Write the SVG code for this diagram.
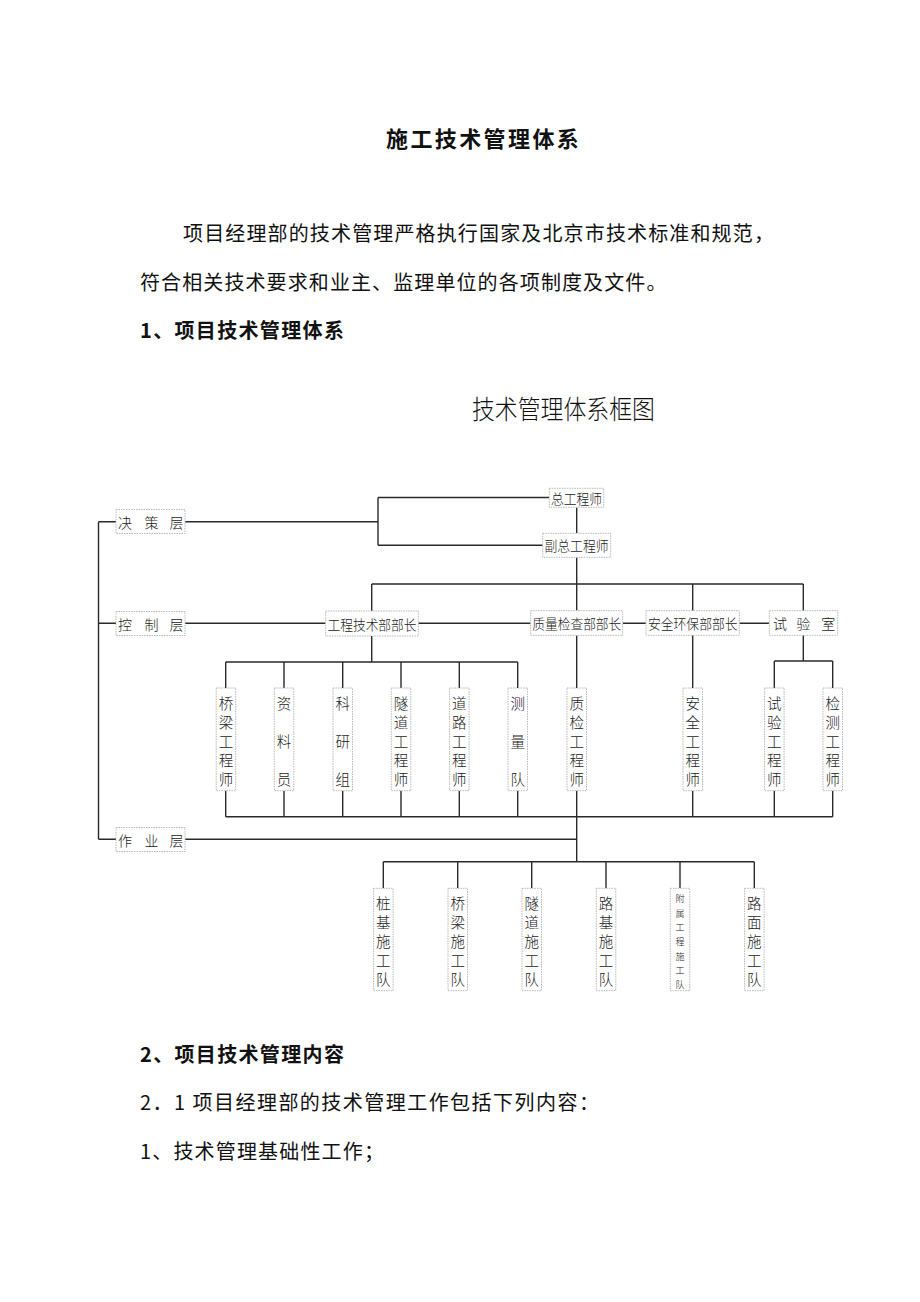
<svg xmlns="http://www.w3.org/2000/svg" width="920" height="1302" viewBox="0 0 920 1302">
<style>
.bg{fill:#ffffff}
.body{font-family:"Noto Sans CJK SC","Liberation Serif",sans-serif;font-size:20px;fill:#111;letter-spacing:1.1px;dominant-baseline:central}
.bold{font-weight:bold}
.ttl{font-family:"Noto Sans CJK SC",sans-serif;font-size:22px;font-weight:bold;fill:#111;letter-spacing:2.4px;dominant-baseline:central}
.ct{font-family:"Noto Sans CJK SC",sans-serif;font-size:26px;font-weight:300;fill:#111;dominant-baseline:central}
.box{fill:#ffffff;stroke:#b8b8b8;stroke-width:1;stroke-dasharray:1.5 1}
.lbl{font-family:"Noto Sans CJK SC",sans-serif;font-size:14px;font-weight:300;fill:#222;dominant-baseline:central}
.vl{font-family:"Noto Sans CJK SC",sans-serif;font-size:14.5px;font-weight:300;fill:#1a1a1a;text-anchor:middle;dominant-baseline:central}
.sm{font-family:"Noto Sans CJK SC",sans-serif;font-size:9px;font-weight:300;fill:#222;text-anchor:middle;dominant-baseline:central}
.ln{fill:none;stroke:#2a2a2a;stroke-width:1.4}
</style>
<rect class="bg" x="0" y="0" width="920" height="1302"/>

<g id="text-top">
<text class="ttl" x="386" y="137">施工技术管理体系</text>
<text class="body" x="183" y="232" textLength="592">项目经理部的技术管理严格执行国家及北京市技术标准和规范，</text>
<text class="body" x="140" y="281">符合相关技术要求和业主、监理单位的各项制度及文件。</text>
<text class="body bold" x="140" y="329" textLength="205">1、项目技术管理体系</text>
<text class="ct" x="472" y="407" textLength="183" lengthAdjust="spacingAndGlyphs">技术管理体系框图</text>
</g>

<g id="connectors">
<path class="ln" d="M98.5,521.7 V839.3 M98.5,521.7 H116 M98.5,623.3 H116 M98.5,839.3 H116"/>
<path class="ln" d="M185,521.7 H378 M378,497.5 V545.3 M378,497.5 H549.3 M378,545.3 H542.7"/>
<path class="ln" d="M576.7,507.3 V533.3 M576.7,557.3 V610.7"/>
<path class="ln" d="M371.7,584 H803.3 M371.7,584 V611 M692.7,584 V610.7 M803.3,584 V610.7"/>
<path class="ln" d="M185,623.3 H325.7 M418.3,623.3 H530.7 M622.7,623.3 H646 M739.3,623.3 H769.3"/>
<path class="ln" d="M371.7,636 V662 M225.7,662 H517.7 M225.7,662 V688 M284,662 V688 M342.7,662 V688 M401,662 V688 M459.3,662 V688 M517.7,662 V688"/>
<path class="ln" d="M576.7,635.3 V688 M692.7,635.3 V688"/>
<path class="ln" d="M803.3,635.3 V661 M774.3,661 H832.7 M774.3,661 V688 M832.7,661 V688"/>
<path class="ln" d="M225.7,790.7 V816.7 M284,790.7 V816.7 M342.7,790.7 V816.7 M401,790.7 V816.7 M459.3,790.7 V816.7 M517.7,790.7 V816.7 M692.7,790.7 V816.7 M774.3,790.7 V816.7 M832.7,790.7 V816.7 M225.7,816.7 H832.7"/>
<path class="ln" d="M576.7,790.7 V861.7 M185,839.3 H576.7"/>
<path class="ln" d="M383.3,861.7 H754.3 M383.3,861.7 V888.3 M457.7,861.7 V888.3 M531.7,861.7 V888.3 M606,861.7 V888.3 M680,861.7 V888.3 M754.3,861.7 V888.3"/>
</g>

<g id="n-juece"><rect class="box" x="116" y="509.5" width="69" height="24"/><text class="lbl" x="118 144.5 169.5" y="521.5">决策层</text></g>
<g id="n-kongzhi"><rect class="box" x="116" y="611.5" width="69" height="24"/><text class="lbl" x="118 144.5 169.5" y="623.5">控制层</text></g>
<g id="n-zuoye"><rect class="box" x="116" y="827.5" width="69" height="24"/><text class="lbl" x="118 144.5 169.5" y="839.5">作业层</text></g>

<g id="n-zong"><rect class="box" x="549.3" y="488.3" width="54.4" height="19"/><text class="lbl" x="551" y="498" textLength="51" lengthAdjust="spacingAndGlyphs">总工程师</text></g>
<g id="n-fuzong"><rect class="box" x="542.7" y="533.3" width="68" height="24"/><text class="lbl" x="544.5" y="545.3" textLength="64" lengthAdjust="spacingAndGlyphs">副总工程师</text></g>

<g id="n-gcjs"><rect class="box" x="325.7" y="611" width="92.6" height="25"/><text class="lbl" x="327.5" y="623.5" textLength="89" lengthAdjust="spacingAndGlyphs">工程技术部部长</text></g>
<g id="n-zljc"><rect class="box" x="530.7" y="610.7" width="92" height="24.6"/><text class="lbl" x="532.3" y="623.3" textLength="89" lengthAdjust="spacingAndGlyphs">质量检查部部长</text></g>
<g id="n-aqhb"><rect class="box" x="646" y="610.7" width="93.3" height="24.6"/><text class="lbl" x="648" y="623.3" textLength="89.5" lengthAdjust="spacingAndGlyphs">安全环保部部长</text></g>
<g id="n-sys"><rect class="box" x="769.3" y="610.7" width="68.4" height="24.6"/><text class="lbl" x="773 796.3 821.3" y="623.3">试验室</text></g>

<g id="n-qlgcs"><rect class="box" x="216.2" y="688" width="19.5" height="102.7"/><text class="vl"><tspan x="226" y="701.7">桥</tspan><tspan x="226" y="721">梁</tspan><tspan x="226" y="739.6">工</tspan><tspan x="226" y="758.5">程</tspan><tspan x="226" y="777.7">师</tspan></text></g>
<g id="n-zly"><rect class="box" x="274.3" y="688" width="19.5" height="102.7"/><text class="vl"><tspan x="284" y="701.7">资</tspan><tspan x="284" y="739.6">料</tspan><tspan x="284" y="777.7">员</tspan></text></g>
<g id="n-kyz"><rect class="box" x="333" y="688" width="19.5" height="102.7"/><text class="vl"><tspan x="342.7" y="701.7">科</tspan><tspan x="342.7" y="739.6">研</tspan><tspan x="342.7" y="777.7">组</tspan></text></g>
<g id="n-sdgcs"><rect class="box" x="391.3" y="688" width="19.5" height="102.7"/><text class="vl"><tspan x="401" y="701.7">隧</tspan><tspan x="401" y="721">道</tspan><tspan x="401" y="739.6">工</tspan><tspan x="401" y="758.5">程</tspan><tspan x="401" y="777.7">师</tspan></text></g>
<g id="n-dlgcs"><rect class="box" x="449.6" y="688" width="19.5" height="102.7"/><text class="vl"><tspan x="459.3" y="701.7">道</tspan><tspan x="459.3" y="721">路</tspan><tspan x="459.3" y="739.6">工</tspan><tspan x="459.3" y="758.5">程</tspan><tspan x="459.3" y="777.7">师</tspan></text></g>
<g id="n-clq"><rect class="box" x="508" y="688" width="19.5" height="102.7"/><text class="vl"><tspan x="517.7" y="701.7">测</tspan><tspan x="517.7" y="739.6">量</tspan><tspan x="517.7" y="777.7">队</tspan></text></g>
<g id="n-zjgcs"><rect class="box" x="567" y="688" width="19.5" height="102.7"/><text class="vl"><tspan x="576.7" y="701.7">质</tspan><tspan x="576.7" y="721">检</tspan><tspan x="576.7" y="739.6">工</tspan><tspan x="576.7" y="758.5">程</tspan><tspan x="576.7" y="777.7">师</tspan></text></g>
<g id="n-aqgcs"><rect class="box" x="683" y="688" width="19.5" height="102.7"/><text class="vl"><tspan x="692.7" y="701.7">安</tspan><tspan x="692.7" y="721">全</tspan><tspan x="692.7" y="739.6">工</tspan><tspan x="692.7" y="758.5">程</tspan><tspan x="692.7" y="777.7">师</tspan></text></g>
<g id="n-sygcs"><rect class="box" x="764.6" y="688" width="19.5" height="102.7"/><text class="vl"><tspan x="774.3" y="701.7">试</tspan><tspan x="774.3" y="721">验</tspan><tspan x="774.3" y="739.6">工</tspan><tspan x="774.3" y="758.5">程</tspan><tspan x="774.3" y="777.7">师</tspan></text></g>
<g id="n-jcgcs"><rect class="box" x="823" y="688" width="19.5" height="102.7"/><text class="vl"><tspan x="832.7" y="701.7">检</tspan><tspan x="832.7" y="721">测</tspan><tspan x="832.7" y="739.6">工</tspan><tspan x="832.7" y="758.5">程</tspan><tspan x="832.7" y="777.7">师</tspan></text></g>

<g id="n-zjsgd"><rect class="box" x="373.6" y="888.3" width="19.5" height="102.4"/><text class="vl"><tspan x="383.3" y="901.7">桩</tspan><tspan x="383.3" y="921">基</tspan><tspan x="383.3" y="940">施</tspan><tspan x="383.3" y="959.3">工</tspan><tspan x="383.3" y="978.3">队</tspan></text></g>
<g id="n-qlsgd"><rect class="box" x="448" y="888.3" width="19.5" height="102.4"/><text class="vl"><tspan x="457.7" y="901.7">桥</tspan><tspan x="457.7" y="921">梁</tspan><tspan x="457.7" y="940">施</tspan><tspan x="457.7" y="959.3">工</tspan><tspan x="457.7" y="978.3">队</tspan></text></g>
<g id="n-sdsgd"><rect class="box" x="522" y="888.3" width="19.5" height="102.4"/><text class="vl"><tspan x="531.7" y="901.7">隧</tspan><tspan x="531.7" y="921">道</tspan><tspan x="531.7" y="940">施</tspan><tspan x="531.7" y="959.3">工</tspan><tspan x="531.7" y="978.3">队</tspan></text></g>
<g id="n-ljsgd"><rect class="box" x="596.3" y="888.3" width="19.5" height="102.4"/><text class="vl"><tspan x="606" y="901.7">路</tspan><tspan x="606" y="921">基</tspan><tspan x="606" y="940">施</tspan><tspan x="606" y="959.3">工</tspan><tspan x="606" y="978.3">队</tspan></text></g>
<g id="n-fssgd"><rect class="box" x="670.3" y="888.3" width="19.5" height="102.4"/><text class="sm"><tspan x="680" y="898.3">附</tspan><tspan x="680" y="912.6">属</tspan><tspan x="680" y="926.9">工</tspan><tspan x="680" y="941.2">程</tspan><tspan x="680" y="955.5">施</tspan><tspan x="680" y="969.8">工</tspan><tspan x="680" y="984">队</tspan></text></g>
<g id="n-lmsgd"><rect class="box" x="744.6" y="888.3" width="19.5" height="102.4"/><text class="vl"><tspan x="754.3" y="901.7">路</tspan><tspan x="754.3" y="921">面</tspan><tspan x="754.3" y="940">施</tspan><tspan x="754.3" y="959.3">工</tspan><tspan x="754.3" y="978.3">队</tspan></text></g>

<g id="text-bottom">
<text class="body bold" x="140" y="1053" textLength="205">2、项目技术管理内容</text>
<text class="body" x="140" y="1101" textLength="460">2．1 项目经理部的技术管理工作包括下列内容：</text>
<text class="body" x="140" y="1150" textLength="245">1、技术管理基础性工作；</text>
</g>
</svg>
